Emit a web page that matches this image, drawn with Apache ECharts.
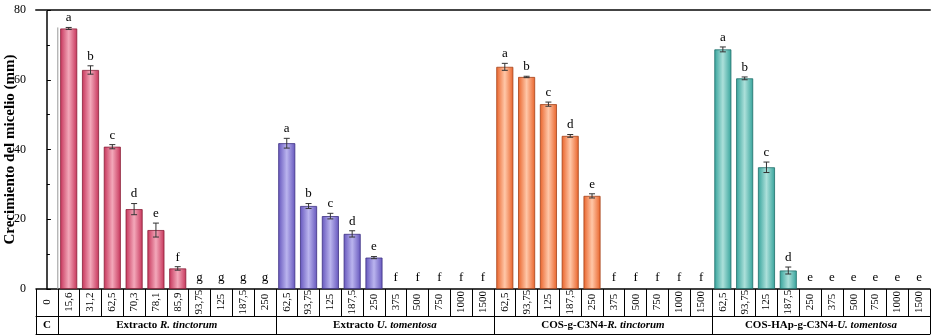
<!DOCTYPE html>
<html>
<head>
<meta charset="utf-8">
<script src="https://cdn.jsdelivr.net/npm/echarts@6/dist/echarts.min.js"></script>
<style>html,body{margin:0;padding:0;background:#fff}#c{width:932px;height:335px}</style>
</head>
<body>
<div id="c"></div>
<script>
// ---- data ----
const controlLabel = ['0'];
const catR = ['15,6','31,2','62,5','70,3','78,1','85,9','93,75','125','187,5','250'];
const catU = ['62,5','93,75','125','187,5','250','375','500','750','1000','1500'];
const catCR = ['62,5','93,75','125','187,5','250','375','500','750','1000','1500'];
const catCU = ['62,5','93,75','125','187,5','250','375','500','750','1000','1500'];

const valR  = [74.7, 62.8, 40.8, 22.9, 16.9, 5.9, 0, 0, 0, 0];
const errR  = [0.3, 1.2, 0.6, 1.6, 2.0, 0.5, 0, 0, 0, 0];
const letR  = ['a','b','c','d','e','f','g','g','g','g'];

const valU  = [41.8, 23.8, 20.9, 15.8, 9.0, 0, 0, 0, 0, 0];
const errU  = [1.4, 0.7, 0.8, 0.9, 0.3, 0, 0, 0, 0, 0];
const letU  = ['a','b','c','d','e','f','f','f','f','f'];

const valCR = [63.7, 60.8, 53.0, 43.9, 26.7, 0, 0, 0, 0, 0];
const errCR = [1.0, 0.2, 0.6, 0.4, 0.6, 0, 0, 0, 0, 0];
const letCR = ['a','b','c','d','e','f','f','f','f','f'];

const valCU = [68.7, 60.4, 34.9, 5.3, 0, 0, 0, 0, 0, 0];
const errCU = [0.7, 0.4, 1.5, 1.0, 0, 0, 0, 0, 0, 0];
const letCU = ['a','b','c','d','e','e','e','e','e','e'];

const controlLine = 75; // thin reference line beside control column

const groupNames = ['C', 'Extracto |R. tinctorum', 'Extracto |U. tomentosa', 'COS-g-C3N4-|R. tinctorum', 'COS-HAp-g-C3N4-|U. tomentosa'];
const yTicks = [0, 20, 40, 60, 80];

// ---- build ----
const categories = controlLabel.concat(catR, catU, catCR, catCU);
const groups = [
  {v: valR, e: errR, l: letR, dark: '#c6345a', light: '#f3a8ba', border: '#8a1f38'},
  {v: valU, e: errU, l: letU, dark: '#6556bd', light: '#bab4ee', border: '#3d3183'},
  {v: valCR, e: errCR, l: letCR, dark: '#e9632a', light: '#ffc7a8', border: '#a5431a'},
  {v: valCU, e: errCU, l: letCU, dark: '#35a39b', light: '#ace0da', border: '#1f6f69'}
];
const grad = (d, l) => new echarts.graphic.LinearGradient(0, 0, 1, 0, [
  {offset: 0, color: d}, {offset: 0.5, color: l}, {offset: 1, color: d}]);

const barData = [null];
const errData = [];
groups.forEach((g, gi) => {
  g.v.forEach((v, i) => {
    const idx = 1 + gi * 10 + i;
    barData.push(v === 0 ? null : {value: v, itemStyle: {color: grad(g.dark, g.light), borderColor: g.border, borderWidth: 0.8}});
    errData.push({value: [idx, v, g.e[i]], letter: g.l[i]});
  });
});

const serif = 'Liberation Serif, Times New Roman, serif';
const groupCenters = [0, 5.5, 15.5, 25.5, 35.5];
const groupBounds = [-0.5, 0.5, 10.5, 20.5, 30.5, 40.5];

const chart = echarts.init(document.getElementById('c'), null, {renderer: 'canvas'});
chart.setOption({
  animation: false,
  backgroundColor: '#fff',
  grid: {left: 36, right: 2, top: 10, bottom: 46, containLabel: false, outerBoundsMode: 'none'},
  xAxis: [
    {
      type: 'category', data: categories, position: 'bottom',
      axisLine: {lineStyle: {color: '#000', width: 1.5}},
      axisTick: {show: true, interval: 0, length: 27, lineStyle: {color: '#000', width: 1}},
      axisLabel: {interval: 0, rotate: 90, align: 'center', margin: 13, fontSize: 11, fontFamily: serif, color: '#000'},
      splitLine: {show: false}
    },
    {
      type: 'value', min: -0.5, max: 40.5, position: 'bottom', offset: 27,
      axisLine: {show: true, onZero: false, lineStyle: {color: '#000', width: 1}},
      axisTick: {show: true, customValues: groupBounds, length: 18, lineStyle: {color: '#000', width: 1}},
      axisLabel: {
        customValues: groupCenters, margin: 4, color: '#000',
        formatter: function (v) {
          const i = groupCenters.indexOf(v);
          if (i < 0) return '';
          const p = groupNames[i].split('|');
          return p.length > 1 ? '{b|' + p[0] + '}{bi|' + p[1] + '}' : '{b|' + p[0] + '}';
        },
        rich: {
          b: {fontFamily: serif, fontWeight: 'bold', fontSize: 11, color: '#000'},
          bi: {fontFamily: serif, fontWeight: 'bold', fontStyle: 'italic', fontSize: 11, color: '#000'}
        }
      },
      splitLine: {show: false}
    },
    {
      type: 'value', min: -0.5, max: 40.5, position: 'bottom', offset: 45,
      axisLine: {show: true, onZero: false, lineStyle: {color: '#000', width: 1}},
      axisTick: {show: false}, axisLabel: {show: false}, splitLine: {show: false}
    },
    {
      type: 'value', min: -0.5, max: 40.5, position: 'top',
      axisLine: {show: true, onZero: false, lineStyle: {color: '#444', width: 2}},
      axisTick: {show: false}, axisLabel: {show: false}, splitLine: {show: false}
    }
  ],
  yAxis: [
    {
      type: 'value', min: yTicks[0], max: yTicks[yTicks.length - 1], interval: 20,
      name: 'Crecimiento del micelio (mm)', nameLocation: 'middle', nameGap: 18, nameMoveOverlap: false,
      nameTextStyle: {fontFamily: serif, fontWeight: 'bold', fontSize: 15, color: '#000'},
      axisLine: {show: true, lineStyle: {color: '#000', width: 1}},
      axisTick: {show: true, inside: true, length: 4, lineStyle: {color: '#000'}},
      minorTick: {show: true, splitNumber: 2, length: 3, lineStyle: {color: '#000'}},
      axisLabel: {fontFamily: serif, fontSize: 12, color: '#000', margin: 10},
      splitLine: {show: false}
    },
    {
      type: 'value', position: 'right', min: 0, max: 80,
      axisLine: {show: true, lineStyle: {color: '#444', width: 2}},
      axisTick: {show: false}, axisLabel: {show: false}, splitLine: {show: false}
    }
  ],
  series: [
    {
      type: 'bar', data: barData, barWidth: '78%', xAxisIndex: 0, yAxisIndex: 0
    },
    {
      type: 'custom', xAxisIndex: 0, yAxisIndex: 0, data: errData, z: 5,
      renderItem: function (params, api) {
        const x = api.value(0), v = api.value(1), e = api.value(2);
        const top = api.coord([x, v + e]);
        const bot = api.coord([x, Math.max(v - e, 0)]);
        const letter = errData[params.dataIndex].letter;
        const children = [];
        if (e > 0) {
          const cw = 3;
          children.push({type: 'line', shape: {x1: top[0], y1: top[1], x2: bot[0], y2: bot[1]}, style: {stroke: '#333', lineWidth: 1}});
          children.push({type: 'line', shape: {x1: top[0] - cw, y1: top[1], x2: top[0] + cw, y2: top[1]}, style: {stroke: '#333', lineWidth: 1}});
          children.push({type: 'line', shape: {x1: bot[0] - cw, y1: bot[1], x2: bot[0] + cw, y2: bot[1]}, style: {stroke: '#333', lineWidth: 1}});
        }
        children.push({type: 'text', style: {text: letter, x: top[0], y: top[1] - (v === 0 ? 5 : 3), align: 'center', verticalAlign: 'bottom', font: '13px ' + serif, fill: '#000'}});
        return {type: 'group', children: children};
      }
    },
    {
      type: 'custom', xAxisIndex: 0, yAxisIndex: 0, data: [[0, controlLine]], z: 4,
      renderItem: function (params, api) {
        const w = api.size([1, 0])[0];
        const t = api.coord([api.value(0), api.value(1)]);
        const b = api.coord([api.value(0), 0]);
        return {type: 'line', shape: {x1: t[0] + w / 2, y1: t[1], x2: b[0] + w / 2, y2: b[1]}, style: {stroke: '#999', lineWidth: 1}};
      }
    }
  ]
});
</script>
</body>
</html>
